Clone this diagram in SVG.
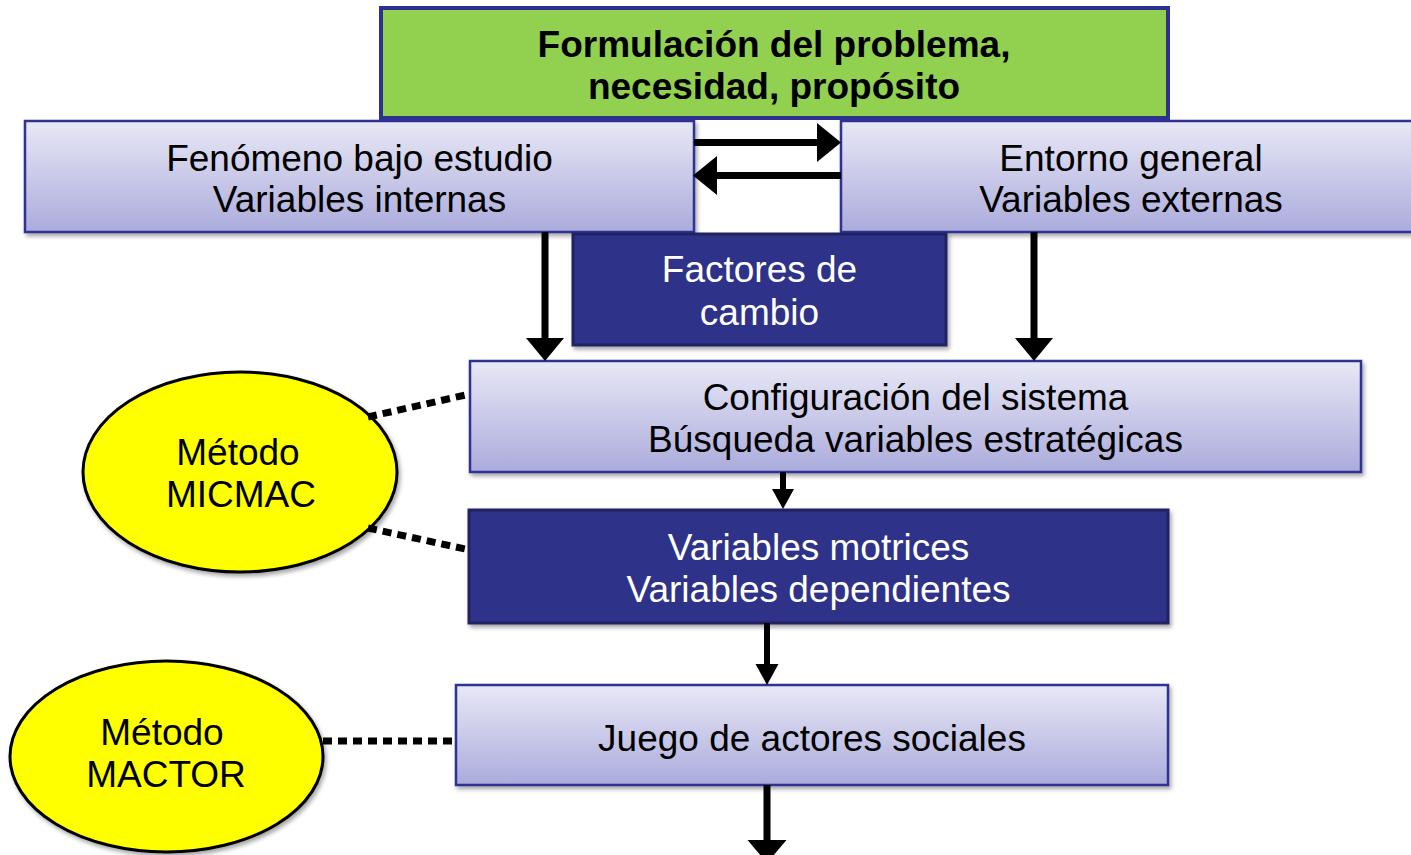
<svg xmlns="http://www.w3.org/2000/svg" width="1411" height="855" viewBox="0 0 1411 855">
<defs>
<linearGradient id="lg" x1="0" y1="0" x2="0" y2="1">
<stop offset="0" stop-color="#E8E8F6"/>
<stop offset="1" stop-color="#ABABDC"/>
</linearGradient>
<filter id="sh" x="-5%" y="-10%" width="110%" height="130%">
<feDropShadow dx="2" dy="3" stdDeviation="2" flood-color="#000" flood-opacity="0.35"/>
</filter>
</defs>
<style>
.light{fill:url(#lg);stroke:#2E3192;stroke-width:2.5;filter:url(#sh)}
.dark{fill:#2E3089;stroke:#202262;stroke-width:3;filter:url(#sh)}
.green{fill:#92D050;stroke:#2E3192;stroke-width:4}
.ell{fill:#FFFF00;stroke:#000;stroke-width:3;filter:url(#sh)}
text{font-family:"Liberation Sans",Arial,sans-serif;font-size:37px;text-anchor:middle;fill:#000}
.w{fill:#fff}
.b{font-weight:bold}
.shaft{stroke:#000;fill:none}
.dot{stroke:#000;stroke-width:7;stroke-dasharray:9 6;fill:none}
.head{fill:#000}
</style>
<rect width="1411" height="855" fill="#fff"/>
<g id="formulacion">
<rect class="green" x="381" y="8" width="787" height="110"/>
<text class="b" x="774" y="57">Formulación del problema,</text>
<text class="b" x="774" y="99">necesidad, propósito</text>
</g>
<g id="fenomeno">
<rect class="light" x="25" y="121" width="669" height="111"/>
<text x="359.5" y="171">Fenómeno bajo estudio</text>
<text x="359.5" y="212">Variables internas</text>
</g>
<g id="entorno">
<rect class="light" x="841" y="121" width="580" height="111"/>
<text x="1131" y="171">Entorno general</text>
<text x="1131" y="212">Variables externas</text>
</g>
<g id="factores">
<rect class="dark" x="573" y="234" width="373" height="111"/>
<text class="w" x="759.5" y="282">Factores de</text>
<text class="w" x="759.5" y="325">cambio</text>
</g>
<g id="configuracion">
<rect class="light" x="470" y="361" width="891" height="111"/>
<text x="915.5" y="410">Configuración del sistema</text>
<text x="915.5" y="452">Búsqueda variables estratégicas</text>
</g>
<g id="motrices">
<rect class="dark" x="469" y="510" width="699" height="113"/>
<text class="w" x="818.5" y="560">Variables motrices</text>
<text class="w" x="818.5" y="602">Variables dependientes</text>
</g>
<g id="juego">
<rect class="light" x="456" y="685" width="712" height="100"/>
<text x="812" y="751">Juego de actores sociales</text>
</g>
<g id="micmac">
<ellipse class="ell" cx="240" cy="472" rx="157" ry="100"/>
<text x="238" y="465">Método</text>
<text x="241" y="507">MICMAC</text>
</g>
<g id="mactor">
<ellipse class="ell" cx="166.5" cy="756.5" rx="156.5" ry="95.5"/>
<text x="162" y="745">Método</text>
<text x="166" y="787">MACTOR</text>
</g>
<g id="connectors">
<line class="shaft" x1="694" y1="142.5" x2="820" y2="142.5" stroke-width="7"/>
<polygon class="head" points="817,123 841,142.5 817,162"/>
<line class="shaft" x1="841" y1="175.5" x2="714" y2="175.5" stroke-width="7"/>
<polygon class="head" points="717,156 693,175.5 717,195"/>
<line class="shaft" x1="545" y1="232" x2="545" y2="341" stroke-width="7"/>
<polygon class="head" points="526,338 564,338 545,361"/>
<line class="shaft" x1="1034" y1="232" x2="1034" y2="341" stroke-width="7"/>
<polygon class="head" points="1015,338 1053,338 1034,361"/>
<line class="shaft" x1="783" y1="472" x2="783" y2="492" stroke-width="6"/>
<polygon class="head" points="772,489 794,489 783,509"/>
<line class="shaft" x1="767" y1="623" x2="767" y2="667" stroke-width="6"/>
<polygon class="head" points="755.5,664 778.5,664 767,685"/>
<line class="shaft" x1="767" y1="785" x2="767" y2="843" stroke-width="7"/>
<polygon class="head" points="747.5,840 786.5,840 767,863"/>
<line class="dot" x1="368" y1="417" x2="470" y2="394"/>
<line class="dot" x1="368" y1="528" x2="470" y2="550"/>
<line class="dot" x1="323" y1="741" x2="456" y2="741"/>
</g>
</svg>
